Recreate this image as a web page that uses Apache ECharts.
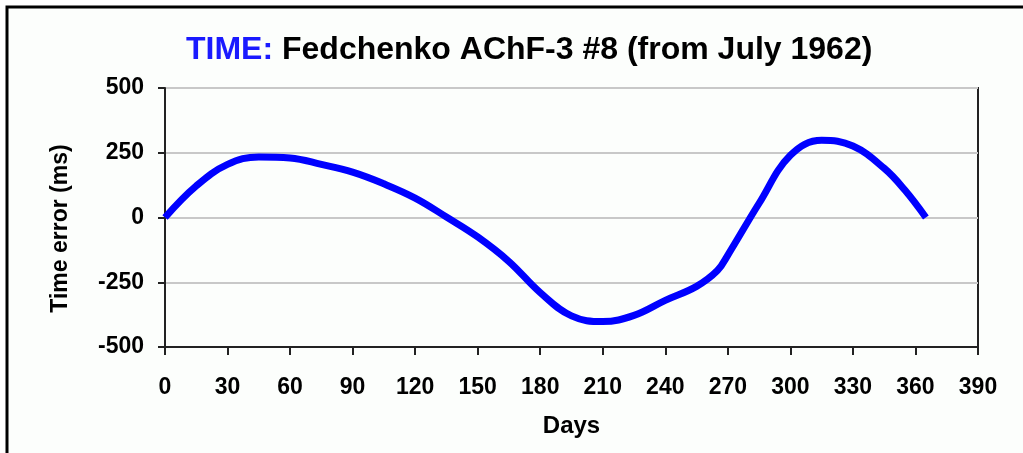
<!DOCTYPE html>
<html>
<head>
<meta charset="utf-8">
<script src="https://cdn.jsdelivr.net/npm/echarts@6/dist/echarts.min.js"></script>
<style>
  html, body { margin: 0; padding: 0; background: #ffffff; }
  #demo { width: 1023px; height: 453px; }
</style>
</head>
<body>
<div id="demo"></div>
<script>
// 数据：从图上读出来的（天数 / 时间误差 ms）
var days = [0, 15, 30, 45, 60, 75, 90, 105, 120, 135, 150, 165, 180, 195, 210, 225, 240, 255, 265, 270, 285, 300, 315, 330, 345, 355, 365];
var timeError = [0, 122, 205, 234, 230, 205, 175, 130, 75, 2, -75, -170, -290, -380, -402, -378, -320, -266, -205, -145, 55, 240, 298, 276, 190, 105, 0];
var xTicks = [0, 30, 60, 90, 120, 150, 180, 210, 240, 270, 300, 330, 360, 390];
var yTicks = [-500, -250, 0, 250, 500];

var points = [];
for (var i = 0; i < days.length; i++) {
    points.push([days[i], timeError[i]]);
}

var chartDom = document.getElementById('demo');
var myChart = echarts.init(chartDom);
var option;
var fontFam = '"Liberation Sans", Arial, sans-serif';
option = {
    animation: false,
    backgroundColor: '#ffffff',
    graphic: [
        {
            type: 'rect',
            z: -10,
            shape: { x: 7, y: 7, width: 1040, height: 470 },
            style: { fill: '#fcfefc', stroke: '#000000', lineWidth: 3 }
        }
    ],
    title: {
        text: '{a|TIME: }{b|Fedchenko AChF-3 #8 (from July 1962)}',
        left: 181,
        top: 29,
        textStyle: {
            rich: {
                a: { color: '#1a1aff', fontSize: 32, fontWeight: 'bold', fontFamily: fontFam },
                b: { color: '#000000', fontSize: 32, fontWeight: 'bold', fontFamily: fontFam }
            }
        }
    },
    grid: {
        left: 165,
        top: 88,
        right: 45,
        bottom: 106,
        show: true,
        borderColor: '#222222',
        borderWidth: 2
    },
    xAxis: {
        type: 'value',
        min: xTicks[0],
        max: xTicks[xTicks.length - 1],
        interval: 30,
        name: 'Days',
        nameLocation: 'middle',
        nameGap: 67,
        nameTextStyle: { color: '#000', fontSize: 24, fontWeight: 'bold', fontFamily: fontFam },
        axisLine: { onZero: false, lineStyle: { color: '#222', width: 2 } },
        axisTick: { show: true, length: 8, lineStyle: { color: '#222', width: 2 } },
        axisLabel: { color: '#000', fontSize: 23, fontWeight: 'bold', fontFamily: fontFam, margin: 29 },
        splitLine: { show: false }
    },
    yAxis: {
        type: 'value',
        min: yTicks[0],
        max: yTicks[yTicks.length - 1],
        interval: 250,
        name: 'Time error (ms)',
        nameLocation: 'middle',
        nameGap: 93,
        nameTextStyle: { color: '#000', fontSize: 23, fontWeight: 'bold', fontFamily: fontFam, padding: [0, 22, 0, 0] },
        axisLine: { lineStyle: { color: '#222', width: 2 } },
        axisTick: { show: true, length: 7, lineStyle: { color: '#222', width: 2 } },
        axisLabel: { color: '#000', fontSize: 23, fontWeight: 'bold', fontFamily: fontFam, margin: 21 },
        splitLine: { show: true, lineStyle: { color: '#c8c8c8', width: 2 } }
    },
    series: [
        {
            name: 'Time error',
            type: 'line',
            data: points,
            smooth: 0.4,
            showSymbol: false,
            lineStyle: { color: '#0000ff', width: 7 },
            itemStyle: { color: '#0000ff' }
        }
    ]
};
option && myChart.setOption(option);
</script>
</body>
</html>
